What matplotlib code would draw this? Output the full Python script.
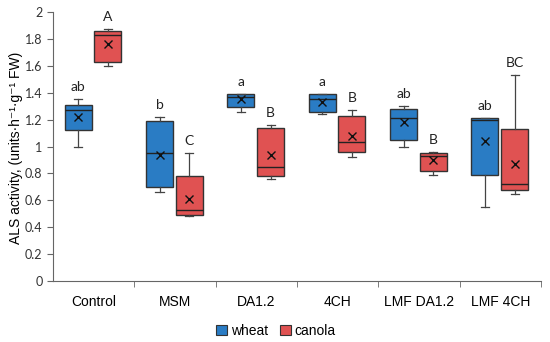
import matplotlib.pyplot as plt
import numpy as np

categories = ["Control", "MSM", "DA1.2", "4CH", "LMF DA1.2", "LMF 4CH"]

# box stats: whisker low, q1, median, q3, whisker high, mean
wheat_whislo = [1.00, 0.66, 1.26, 1.24, 1.00, 0.55]
wheat_q1 = [1.12, 0.70, 1.29, 1.26, 1.05, 0.79]
wheat_med = [1.27, 0.95, 1.37, 1.35, 1.21, 1.20]
wheat_q3 = [1.31, 1.19, 1.39, 1.39, 1.28, 1.21]
wheat_whishi = [1.35, 1.22, 1.39, 1.39, 1.30, 1.21]
wheat_mean = [1.22, 0.94, 1.35, 1.33, 1.18, 1.04]
wheat_letters = ["ab", "b", "a", "a", "ab", "ab"]

canola_whislo = [1.60, 0.48, 0.76, 0.92, 0.79, 0.65]
canola_q1 = [1.63, 0.49, 0.78, 0.96, 0.82, 0.68]
canola_med = [1.83, 0.53, 0.85, 1.03, 0.93, 0.72]
canola_q3 = [1.86, 0.78, 1.14, 1.23, 0.95, 1.13]
canola_whishi = [1.87, 0.95, 1.16, 1.27, 0.96, 1.53]
canola_mean = [1.76, 0.61, 0.94, 1.08, 0.90, 0.87]
canola_letters = ["A", "C", "B", "B", "B", "BC"]

wheat_color = "#2a7cc4"
canola_color = "#e05252"

fig = plt.figure(figsize=(5.5, 3.42), dpi=100)
ax = fig.add_axes([53 / 550, 1 - 281 / 342, 488 / 550, 269 / 342])

x = np.arange(len(categories))


def make_stats(lo, q1, med, q3, hi, mean):
    return [
        {"whislo": a, "q1": b, "med": c, "q3": d, "whishi": e, "mean": f, "fliers": []}
        for a, b, c, d, e, f in zip(lo, q1, med, q3, hi, mean)
    ]


groups = [
    (make_stats(wheat_whislo, wheat_q1, wheat_med, wheat_q3, wheat_whishi, wheat_mean),
     x - 0.19, wheat_color, wheat_whishi, wheat_letters),
    (make_stats(canola_whislo, canola_q1, canola_med, canola_q3, canola_whishi, canola_mean),
     x + 0.175, canola_color, canola_whishi, canola_letters),
]

for stats, pos, color, tops, letters in groups:
    ax.bxp(
        stats,
        positions=pos,
        widths=0.33,
        patch_artist=True,
        showmeans=True,
        boxprops=dict(facecolor=color, edgecolor="#333333", linewidth=1.0),
        medianprops=dict(color="#222222", linewidth=1.0),
        whiskerprops=dict(color="#444444", linewidth=0.9),
        capprops=dict(color="#444444", linewidth=0.9),
        capwidths=0.1,
        meanprops=dict(marker="x", markeredgecolor="#111111", markersize=6,
                       markeredgewidth=1.0),
    )
    for p, t, lab in zip(pos, tops, letters):
        ax.text(p, t + 0.045, lab, ha="center", va="bottom", fontsize=10,
                family="Lato", color="#222222")

ax.set_xlim(-0.5, len(categories) - 0.5)
ax.set_ylim(0, 2)
ax.set_yticks(np.arange(0, 2.01, 0.2))
ax.set_yticklabels(["0", "0.2", "0.4", "0.6", "0.8", "1", "1.2", "1.4", "1.6", "1.8", "2"])

ax.set_xticks(x)
ax.set_xticklabels(categories, family="Liberation Sans", fontsize=10)
ax.tick_params(axis="x", length=0, pad=10)
ax.set_xticks(np.arange(0.5, len(categories), 1.0), minor=True)
ax.tick_params(axis="x", which="minor", length=4, color="#666666")
ax.tick_params(axis="y", labelsize=9, length=4, color="#666666", labelcolor="#333333")
for lab in ax.get_yticklabels():
    lab.set_family("Lato")

for s in ["top", "right"]:
    ax.spines[s].set_visible(False)
ax.spines["left"].set_color("#666666")
ax.spines["bottom"].set_color("#666666")

fig.text(16 / 550, 1 - 148 / 342, "ALS activity, (units·h⁻¹·g⁻¹ FW)",
         family=["Liberation Sans", "DejaVu Sans"], fontsize=10, rotation=90,
         ha="center", va="center")

handles = [plt.Rectangle((0, 0), 1, 1, facecolor=c, edgecolor="#333333", linewidth=0.8)
           for c in (wheat_color, canola_color)]
fig.legend(handles, ["wheat", "canola"], loc="center", bbox_to_anchor=(276 / 550, 1 - 331 / 342),
           ncol=2, frameon=False, prop={"family": "Liberation Sans", "size": 10},
           handlelength=0.8, handleheight=0.8, handletextpad=0.3, columnspacing=0.8)

fig.savefig("out.png", dpi=100)
